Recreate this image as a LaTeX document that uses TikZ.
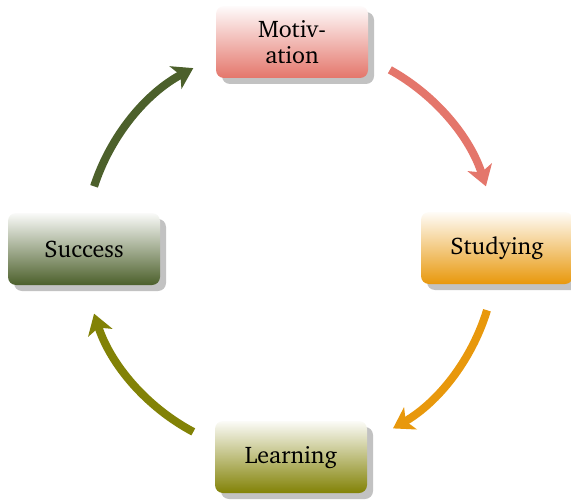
\documentclass[tikz,border=0pt]{standalone}
\usepackage[T1]{fontenc}
\usepackage{charter}
\usetikzlibrary{shadows,arrows.meta}

\definecolor{motivred}{HTML}{E4766B}
\definecolor{studyorange}{HTML}{E8980C}
\definecolor{learnolive}{HTML}{828206}
\definecolor{successgreen}{HTML}{4C602B}

\tikzset{
  stage/.style={rectangle, rounded corners=6pt, minimum width=114pt,
    minimum height=54pt, align=center, font=\fontsize{18}{19}\selectfont,
    top color=#1!3, bottom color=#1,
    drop shadow={shadow xshift=4.5pt, shadow yshift=-4.5pt, fill=black!24, opacity=1}},
  cyclearrow/.style={line width=6pt, draw=#1,
    -{Stealth[length=15pt, width=19pt, inset=4pt]}}
}

\begin{document}
\begin{tikzpicture}[x=0.75pt, y=0.75pt]
  \useasboundingbox (0,0) rectangle (571,501);

  % Centre of the cycle
  \coordinate (c) at (290,251);

  % Stages
  \node[stage=motivred] (motiv) at (292,459) {Motiv-\\ation};
  \node[stage=studyorange] (study) at (497,253) {Studying};
  \node[stage=learnolive] (learn) at (291,44) {Learning};
  \node[stage=successgreen] (success) at (84,252) {Success};

  % Arrow ends on the circle
  \coordinate (ms) at ([shift={(61:206)}]c);
  \coordinate (ss) at ([shift={(-17:206)}]c);
  \coordinate (ls) at ([shift={(242:206)}]c);
  \coordinate (cs) at ([shift={(162:206)}]c);

  % Arrows
  \draw[cyclearrow=motivred] (ms) arc[start angle=61, end angle=18, radius=206];
  \draw[cyclearrow=studyorange] (ss) arc[start angle=-17, end angle=-60, radius=206];
  \draw[cyclearrow=learnolive] (ls) arc[start angle=242, end angle=198, radius=206];
  \draw[cyclearrow=successgreen] (cs) arc[start angle=162, end angle=118, radius=206];
\end{tikzpicture}
\end{document}
